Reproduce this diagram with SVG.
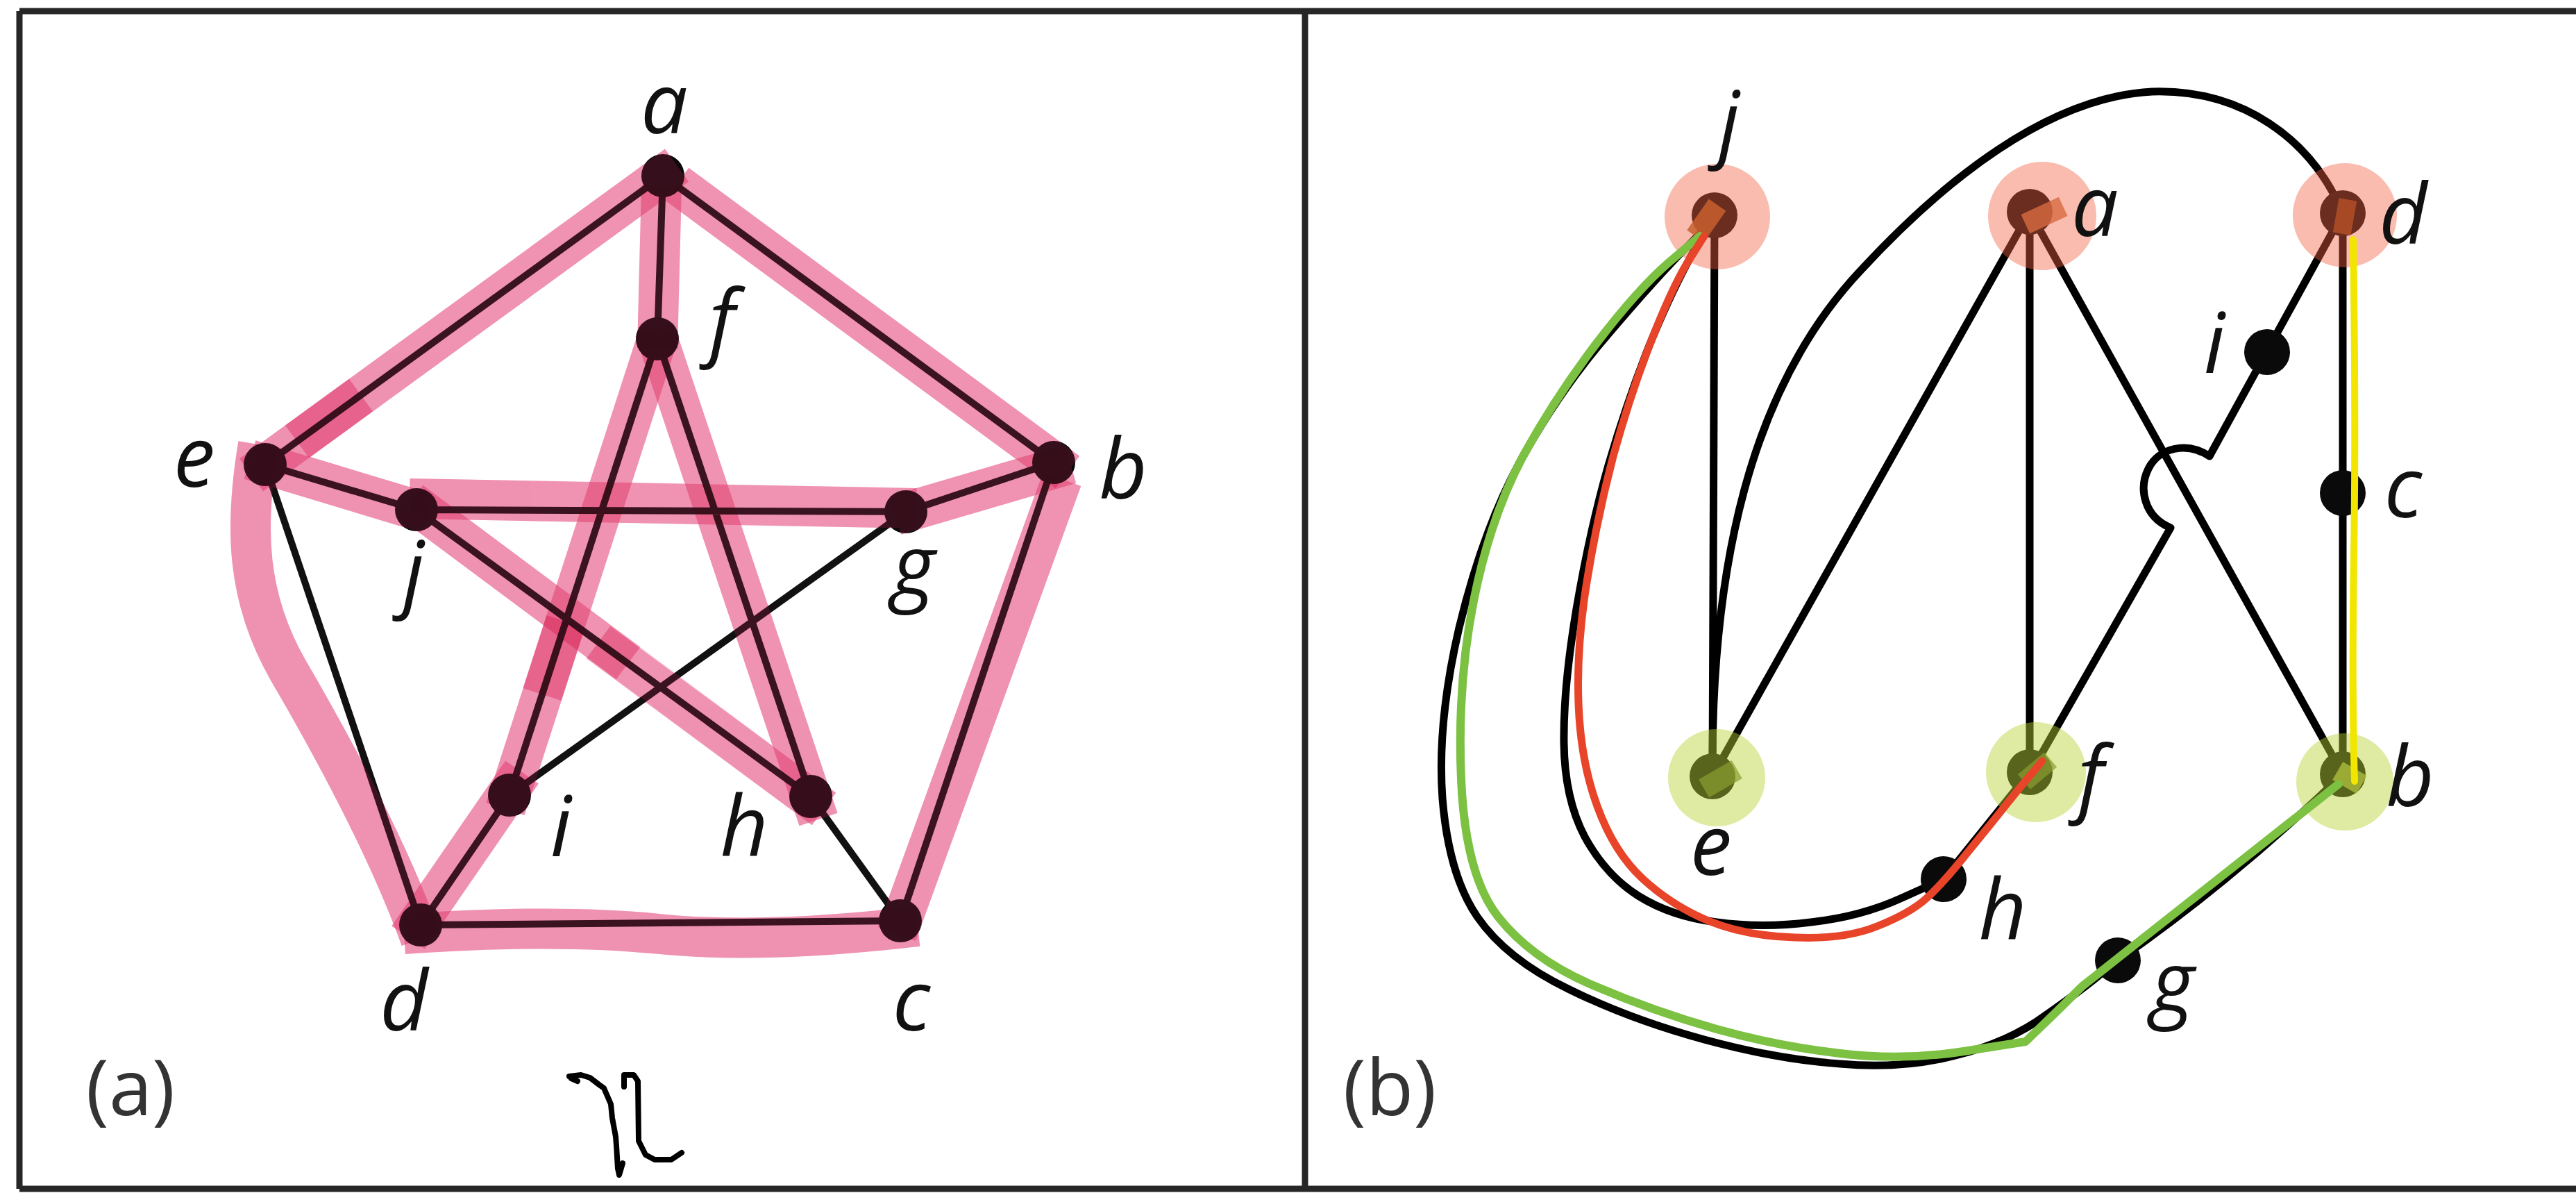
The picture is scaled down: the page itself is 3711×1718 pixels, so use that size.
<svg xmlns="http://www.w3.org/2000/svg" width="3711" height="1718" viewBox="0 0 3711 1718">
<style>
.frame{stroke:#262626;stroke-width:9;fill:none}
.e{stroke:#111;stroke-width:10;fill:none;stroke-linecap:round}
.eb{stroke:#000;stroke-width:11;fill:none;stroke-linecap:round;stroke-linejoin:round}
.pk{stroke:#f4aac4;stroke-width:58;fill:none;stroke-linecap:butt;mix-blend-mode:multiply}
.pt{stroke:#e0306a;stroke-width:58;fill:none;stroke-linecap:butt}
.n{fill:#0a0a0a}
.lab{font-family:"Open Sans","DejaVu Sans",sans-serif;font-style:italic;font-size:120px;fill:#111;text-anchor:middle}
.cap{font-family:"Open Sans","DejaVu Sans",sans-serif;font-size:112px;fill:#333;text-anchor:middle}
.hr{fill:#f06040;fill-opacity:0.42}
.hg{fill:#b8d030;fill-opacity:0.45}
.red{stroke:#e8442a;stroke-width:11;fill:none;stroke-linecap:round;stroke-linejoin:round}
.grn{stroke:#7cc142;stroke-width:12;fill:none;stroke-linecap:round;stroke-linejoin:round}
.yel{stroke:#f2e600;stroke-width:10;fill:none;stroke-linecap:round}
.ink{stroke:#000;stroke-width:8;fill:none;stroke-linecap:round;stroke-linejoin:round}
</style>
<rect width="3711" height="1718" fill="#fff"/>
<g id="frame">
<path class="frame" d="M28,16 H3711 M28,16 V1712 M28,1712 H3711 M1880,16 V1712"/>
</g>

<!-- Panel (a) -->
<g id="panel-a">
<g id="a-connectors">
<path class="e" d="M955,253 L1518,666 M1518,666 L1297,1326 M1297,1326 L606,1332 M606,1332 L382,669 M382,669 L955,253"/>
<path class="e" d="M955,253 L947,488 M1518,666 L1305,737 M1297,1326 L1168,1147 M606,1332 L734,1145 M382,669 L600,734"/>
<path class="e" d="M947,488 L734,1145 M947,488 L1168,1147 M600,734 L1305,737 M600,734 L1168,1147 M734,1145 L1305,737"/>
</g>
<g id="a-node-a"><circle class="n" cx="955" cy="253" r="31"/><text class="lab" x="957" y="192">a</text></g>
<g id="a-node-f"><circle class="n" cx="947" cy="488" r="31"/><text class="lab" x="1040" y="504">f</text></g>
<g id="a-node-e"><circle class="n" cx="382" cy="669" r="31"/><text class="lab" x="280" y="701">e</text></g>
<g id="a-node-b"><circle class="n" cx="1518" cy="666" r="31"/><text class="lab" x="1618" y="718">b</text></g>
<g id="a-node-j"><circle class="n" cx="600" cy="734" r="31"/><text class="lab" x="596" y="866">j</text></g>
<g id="a-node-g"><circle class="n" cx="1305" cy="737" r="31"/><text class="lab" x="1316" y="857">g</text></g>
<g id="a-node-i"><circle class="n" cx="734" cy="1145" r="31"/><text class="lab" x="808" y="1233">i</text></g>
<g id="a-node-h"><circle class="n" cx="1168" cy="1147" r="31"/><text class="lab" x="1072" y="1233">h</text></g>
<g id="a-node-d"><circle class="n" cx="606" cy="1332" r="31"/><text class="lab" x="582" y="1484">d</text></g>
<g id="a-node-c"><circle class="n" cx="1297" cy="1326" r="31"/><text class="lab" x="1313" y="1484">c</text></g>
<g id="a-highlight">
<path class="pk" d="M362,684 L975,238"/>
<path class="pk" d="M428,636 L520,569"/>
<path class="pk" d="M953,268 L947,502"/>
<path class="pk" d="M975,265 L1538,680"/>
<path class="pk" d="M951,475 L781,1000"/>
<path class="pk" d="M815,895 L728,1165"/>
<path class="pk" d="M943,475 L1179,1180"/>
<path class="pk" d="M360,662 L615,739"/>
<path class="pk" d="M590,718 L1320,732"/>
<path class="pk" d="M1290,742 L1542,668"/>
<path class="pk" d="M1530,690 L1292,1345"/>
<path class="pk" d="M582,1345 Q800,1330 950,1345 T1322,1334"/>
<path class="pk" d="M372,640 C352,760 355,860 415,965 C485,1085 560,1225 606,1352"/>
<path class="pk" d="M588,1350 L752,1112"/>
<path class="pk" d="M592,722 L905,955"/>
<path class="pk" d="M862,925 L1187,1165"/>
<g opacity="0.2">
<path class="pt" d="M362,684 L975,238 M953,268 L947,502 M975,265 L1538,680 M951,475 L728,1165 M943,475 L1179,1180 M360,662 L615,739 M590,718 L1320,732 M1290,742 L1542,668 M1530,690 L1292,1345 M588,1350 L752,1112 M592,722 L1187,1165"/>
<path class="pt" d="M582,1345 Q800,1330 950,1345 T1322,1334"/>
<path class="pt" d="M372,640 C352,760 355,860 415,965 C485,1085 560,1225 606,1352"/>
</g>
</g>
<text class="cap" x="188" y="1606">(a)</text>
<g id="scribble">
<path class="ink" d="M820,1550 L837,1548 L850,1552 L863,1562 L870,1567 L880,1590 L882,1610 L887,1637 L888,1650 L890,1683 L892,1692 L897,1675 M823,1553 L832,1557"/>
<path class="ink" d="M899,1565 L899,1548 L913,1548 L919,1557 L920,1643 L930,1663 L943,1670 L967,1670 L982,1660"/>
</g>
</g>

<!-- Panel (b) -->
<g id="panel-b">
<g id="b-connectors">
<path class="eb" d="M2470,310 L2467,1118"/>
<path class="eb" d="M2924,305 L2467,1118"/>
<path class="eb" d="M2924,305 L2924,1112"/>
<path class="eb" d="M2924,305 L3375,1115"/>
<path class="eb" d="M3375,307 L3375,1115"/>
<path class="eb" d="M2800,1266 L2924,1112"/>
<path class="eb" d="M3375,307 L3183,657 C3150,635 3110,645 3095,675 C3080,705 3090,745 3127,760 L2930,1105"/>
<path class="eb" d="M2467,1118 C2465,820 2520,560 2680,390 C2800,260 2950,140 3100,132 C3230,128 3330,200 3375,307"/>
<path class="eb" d="M2470,310 L2440,362 Q2410,415 2377,495 Q2345,575 2317,670 Q2290,765 2271,877 Q2252,990 2253,1070 Q2254,1150 2283,1205 Q2313,1260 2360,1290 Q2408,1320 2473,1328 Q2538,1337 2609,1328 Q2681,1320 2740,1293 L2800,1266"/>
<path class="eb" d="M2467,318 L2419,367 Q2372,416 2307,493 Q2242,570 2188,668 Q2135,767 2102,904 Q2070,1041 2078,1150 Q2087,1260 2128,1320 Q2170,1381 2259,1424 Q2348,1468 2455,1497 Q2562,1526 2651,1532 Q2740,1540 2817,1520 Q2894,1501 2947,1462 Q3001,1424 3026,1403 L3051,1383"/>
<path class="eb" d="M3051,1383 Q3220,1265 3375,1115"/>
</g>
<g id="b-node-j"><circle class="n" cx="2470" cy="310" r="33"/><circle class="hr" cx="2474" cy="312" r="76"/><rect x="2443" y="290" width="30" height="55" fill="#c8602f" fill-opacity="0.85" transform="rotate(35 2458 318)"/><text class="lab" x="2491" y="218">j</text></g>
<g id="b-node-a"><circle class="n" cx="2924" cy="305" r="33"/><circle class="hr" cx="2942" cy="311" r="78"/><rect x="2915" y="295" width="60" height="30" fill="#d86a40" fill-opacity="0.8" transform="rotate(-25 2945 310)"/><text class="lab" x="3018" y="340">a</text></g>
<g id="b-node-d"><circle class="n" cx="3375" cy="307" r="33"/><circle class="hr" cx="3378" cy="310" r="75"/><rect x="3365" y="287" width="26" height="50" fill="#b85028" fill-opacity="0.8" transform="rotate(10 3378 312)"/><text class="lab" x="3462" y="351">d</text></g>
<g id="b-node-e"><circle class="n" cx="2467" cy="1118" r="33"/><circle class="hg" cx="2473" cy="1120" r="70"/><rect x="2451" y="1107" width="55" height="30" fill="#8aa030" fill-opacity="0.7" transform="rotate(-30 2478 1122)"/><text class="lab" x="2465" y="1260">e</text></g>
<g id="b-node-f"><circle class="n" cx="2924" cy="1112" r="33"/><circle class="hg" cx="2933" cy="1112" r="72"/><rect x="2910" y="1096" width="50" height="28" fill="#8aa030" fill-opacity="0.7" transform="rotate(-40 2935 1110)"/><text class="lab" x="3012" y="1161">f</text></g>
<g id="b-node-b"><circle class="n" cx="3375" cy="1115" r="33"/><circle class="hg" cx="3378" cy="1126" r="70"/><rect x="3365" y="1105" width="40" height="30" fill="#b8c840" fill-opacity="0.7" transform="rotate(30 3385 1120)"/><text class="lab" x="3472" y="1161">b</text></g>
<g id="b-node-i"><circle class="n" cx="3266" cy="507" r="33"/><text class="lab" x="3190" y="537">i</text></g>
<g id="b-node-c"><circle class="n" cx="3375" cy="710" r="33"/><text class="lab" x="3462" y="745">c</text></g>
<g id="b-node-h"><circle class="n" cx="2800" cy="1266" r="33"/><text class="lab" x="2885" y="1353">h</text></g>
<g id="b-node-g"><circle class="n" cx="3051" cy="1383" r="33"/><text class="lab" x="3130" y="1457">g</text></g>
<g id="b-highlight">
<path class="yel" d="M3390,345 Q3394,600 3391,800 T3392,1125"/>
<path class="grn" d="M2449,340 L2404,378 Q2360,416 2301,493 Q2242,570 2194,657 Q2147,745 2123,865 Q2099,986 2105,1123 Q2111,1260 2158,1320 Q2206,1381 2295,1419 Q2384,1457 2473,1482 Q2562,1507 2651,1517 Q2740,1528 2829,1514 L2918,1500 Q2960,1460 3000,1420 L3369,1129"/>
<path class="red" d="M2455,340 L2431,378 Q2408,416 2378,493 Q2348,570 2324,657 Q2301,745 2286,838 Q2271,931 2274,1013 Q2277,1096 2301,1161 Q2325,1227 2366,1265 Q2408,1304 2461,1326 Q2515,1348 2586,1350 Q2657,1353 2704,1334 Q2752,1315 2776,1293 Q2800,1271 2835,1227 Q2871,1183 2906,1139 L2942,1096"/>
</g>
<text class="cap" x="2002" y="1606">(b)</text>
</g>
</svg>
